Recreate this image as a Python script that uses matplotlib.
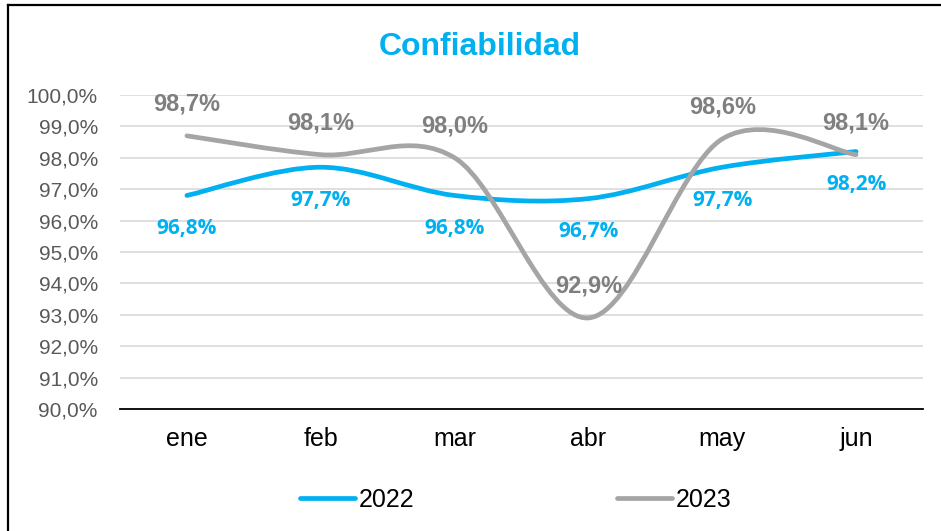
import matplotlib
matplotlib.use('Agg')
import matplotlib.pyplot as plt
from matplotlib.path import Path
from matplotlib.patches import PathPatch
from matplotlib.lines import Line2D
from matplotlib.ticker import FuncFormatter

plt.rcParams['font.family'] = ['Liberation Sans', 'DejaVu Sans']

meses = ['ene', 'feb', 'mar', 'abr', 'may', 'jun']
conf_2022 = [96.8, 97.7, 96.8, 96.7, 97.7, 98.2]
conf_2023 = [98.7, 98.1, 98.0, 92.9, 98.6, 98.1]

azul = '#00B0F0'
gris = '#A5A5A5'


def curva_suave(xs, ys):
    # bezier tipo Excel (catmull-rom, tension 1/6)
    n = len(xs)
    verts = [(xs[0], ys[0])]
    codes = [Path.MOVETO]
    for i in range(n - 1):
        a = max(i - 1, 0)
        b = min(i + 2, n - 1)
        c1 = (xs[i] + (xs[i + 1] - xs[a]) / 6, ys[i] + (ys[i + 1] - ys[a]) / 6)
        c2 = (xs[i + 1] - (xs[b] - xs[i]) / 6, ys[i + 1] - (ys[b] - ys[i]) / 6)
        verts += [c1, c2, (xs[i + 1], ys[i + 1])]
        codes += [Path.CURVE4] * 3
    return Path(verts, codes)


fig = plt.figure(figsize=(9.41, 5.31), dpi=100)
ax = fig.add_axes([120 / 941, 1 - 409 / 531, 803 / 941, 314 / 531])

x = list(range(len(meses)))
for serie, color in [(conf_2022, azul), (conf_2023, gris)]:
    ax.add_patch(PathPatch(curva_suave(x, serie), facecolor='none', edgecolor=color,
                           lw=3.4, capstyle='round', joinstyle='round', zorder=3))

for i, v in enumerate(conf_2022):
    ax.annotate(f'{v:.1f}%'.replace('.', ','), (i, v), xytext=(0, -24), textcoords='offset points',
                ha='center', va='center', color=azul, fontsize=15, fontweight='bold',
                family=['Open Sans', 'DejaVu Sans'], zorder=4)
for i, v in enumerate(conf_2023):
    ax.annotate(f'{v:.1f}%'.replace('.', ','), (i, v), xytext=(0, 23), textcoords='offset points',
                ha='center', va='center', color='#7F7F7F', fontsize=17, fontweight='bold', zorder=4)

ax.set_xlim(-0.5, 5.5)
ax.set_ylim(90, 100)
ax.set_yticks(range(90, 101))
ax.yaxis.set_major_formatter(FuncFormatter(lambda v, p: f'{v:.1f}%'.replace('.', ',')))
ax.set_xticks(x)
ax.set_xticklabels(meses)
ax.grid(axis='y', color='#D9D9D9', lw=1.2)
ax.set_axisbelow(True)
for s in ['top', 'right', 'left']:
    ax.spines[s].set_visible(False)
ax.spines['bottom'].set_color('black')
ax.spines['bottom'].set_linewidth(1.3)
ax.tick_params(axis='y', length=0, pad=16, labelsize=15, labelcolor='#595959')
ax.tick_params(axis='x', length=0, pad=13, labelsize=18, labelcolor='black')

fig.text(480 / 941, 1 - 55 / 531, 'Confiabilidad', ha='center', va='baseline',
         fontsize=23, fontweight='bold', color=azul)

handles = [Line2D([], [], color=azul, lw=3.4, solid_capstyle='round'),
           Line2D([], [], color=gris, lw=3.4, solid_capstyle='round')]
fig.legend(handles, ['2022', '2023'], loc='center', bbox_to_anchor=(516 / 941, 1 - 500 / 531),
           ncol=2, frameon=False, fontsize=18, handlelength=2.2, handletextpad=0.15,
           columnspacing=8.1)

# marco del grafico
fig.add_artist(Line2D([8 / 941, 8 / 941], [0, 1 - 5 / 531], transform=fig.transFigure, color='black', lw=1.6))
fig.add_artist(Line2D([8 / 941, 1], [1 - 5 / 531, 1 - 5 / 531], transform=fig.transFigure, color='black', lw=1.6))

fig.savefig('out.png', dpi=100)
